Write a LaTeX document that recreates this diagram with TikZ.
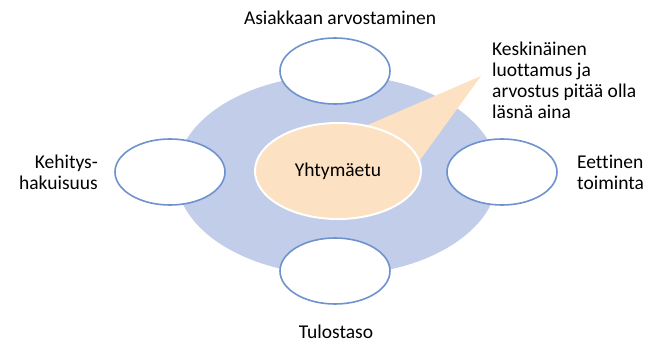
\documentclass[tikz,border=0pt]{standalone}
\usepackage{fontspec}
\setmainfont{Carlito}[Ligatures=NoCommon]
\usetikzlibrary{shapes.geometric}
\definecolor{ringblue}{RGB}{194,205,233}
\definecolor{peach}{RGB}{252,225,194}
\definecolor{edgeblue}{RGB}{111,146,207}
\begin{document}
\begin{tikzpicture}[x=1pt,y=1pt,
	oval/.style={ellipse,draw=edgeblue,line width=1.6pt,fill=white,minimum width=110pt,minimum height=66pt,inner sep=0pt},
	txt/.style={font=\fontsize{19.5}{21}\selectfont,inner sep=0pt}]
	\useasboundingbox (0,0) rectangle (661,343);
	\node[ellipse,fill=ringblue,minimum width=322pt,minimum height=200pt,inner sep=0pt] (ring) at (337,168) {};
	\fill[peach] (340,206) -- (481,267) -- (412,172) -- cycle;
	\node[ellipse,fill=peach,draw=white,line width=2pt,minimum width=166pt,minimum height=96pt,inner sep=0pt] (core) at (338,172) {};
	\node[txt] at (core.center) {Yhtymäetu};
	\node[oval] (arvo) at (335,272) {};
	\node[oval] (tulos) at (335,72) {};
	\node[oval] (kehitys) at (170,171) {};
	\node[oval] (etiikka) at (502,171) {};
	\node[txt] (arvolabel) at (340,325) {Asiakkaan arvostaminen};
	\node[txt] (tuloslabel) at (336,11) {Tulostaso};
	\node[txt,align=right,anchor=east] (kehityslabel) at (98,171) {Kehitys-\\hakuisuus};
	\node[txt,align=left,anchor=west] (etiikkalabel) at (577,171) {Eettinen\\toiminta};
	\node[txt,align=left,anchor=west] (huomio) at (492,263) {Keskinäinen\\luottamus ja\\arvostus pitää olla\\läsnä aina};
\end{tikzpicture}
\end{document}
